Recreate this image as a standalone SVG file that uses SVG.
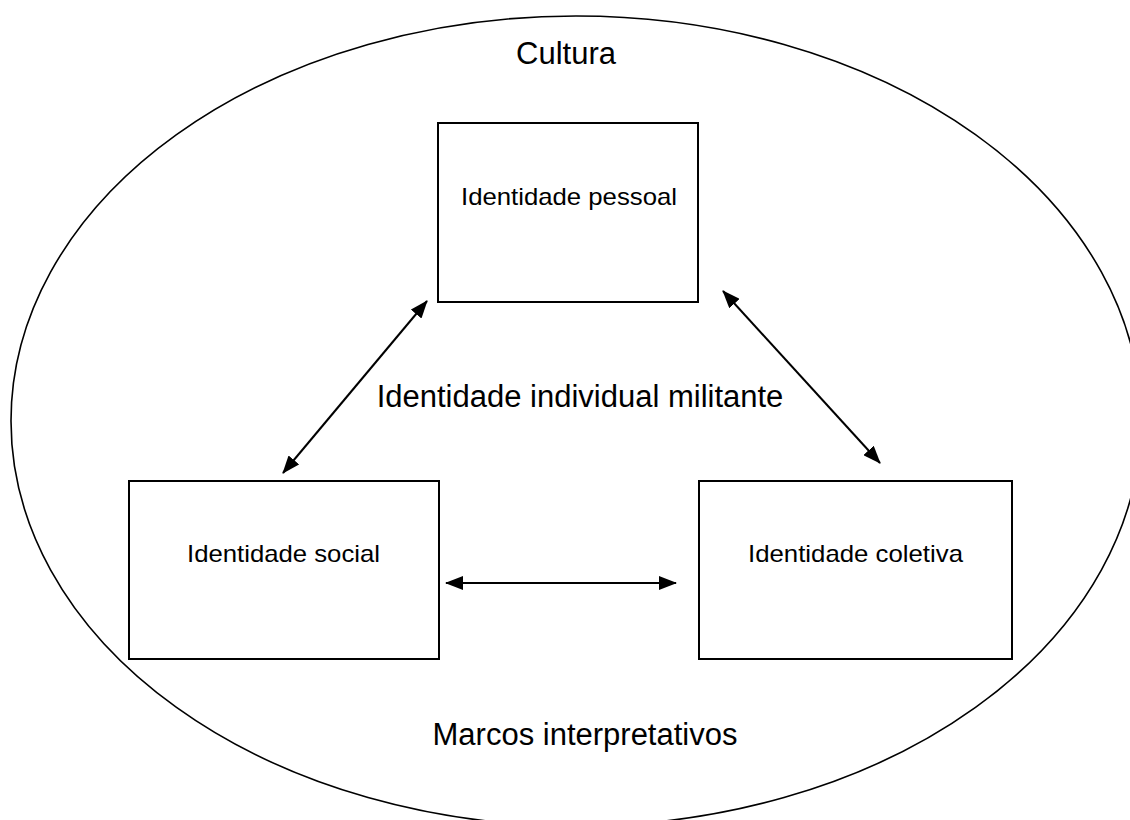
<svg xmlns="http://www.w3.org/2000/svg" width="1130" height="820" viewBox="0 0 1130 820">
  <defs>
    <style>
      .box { fill: #ffffff; stroke: #000000; stroke-width: 2; }
      .frame { fill: none; stroke: #000000; stroke-width: 1.6; }
      .link { fill: none; stroke: #000000; stroke-width: 2; marker-start: url(#head); marker-end: url(#head); }
      .big { font-family: "Liberation Sans", Arial, sans-serif; font-size: 31px; fill: #000000; text-anchor: middle; }
      .small { font-family: "Liberation Sans", Arial, sans-serif; font-size: 24px; fill: #000000; text-anchor: middle; }
    </style>
    <marker id="head" viewBox="0 0 18 14" refX="17" refY="7" markerWidth="18" markerHeight="14" markerUnits="userSpaceOnUse" orient="auto-start-reverse">
      <path d="M0,0 L18,7 L0,14 Z" fill="#000000"/>
    </marker>
  </defs>

  <rect width="1130" height="820" fill="#ffffff"/>

  <!-- outer culture ellipse -->
  <g id="cultura">
    <ellipse class="frame" cx="576" cy="421" rx="565" ry="405"/>
    <text class="big" x="566" y="64">Cultura</text>
  </g>

  <g id="centro">
    <text class="big" x="580" y="407">Identidade individual militante</text>
  </g>

  <g id="marcos">
    <text class="big" x="585" y="745">Marcos interpretativos</text>
  </g>

  <g id="pessoal">
    <rect class="box" x="438" y="123" width="260" height="179"/>
    <text class="small" x="569" y="205" textLength="216" lengthAdjust="spacingAndGlyphs">Identidade pessoal</text>
  </g>

  <g id="social">
    <rect class="box" x="129" y="481" width="310" height="178"/>
    <text class="small" x="283.5" y="562" textLength="193" lengthAdjust="spacingAndGlyphs">Identidade social</text>
  </g>

  <g id="coletiva">
    <rect class="box" x="699" y="481" width="313" height="178"/>
    <text class="small" x="855.5" y="562" textLength="215" lengthAdjust="spacingAndGlyphs">Identidade coletiva</text>
  </g>

  <g id="connectors">
    <line class="link" x1="283" y1="473" x2="427" y2="301"/>
    <line class="link" x1="723" y1="291" x2="880" y2="463"/>
    <line class="link" x1="446" y1="583" x2="676" y2="583"/>
  </g>
</svg>
